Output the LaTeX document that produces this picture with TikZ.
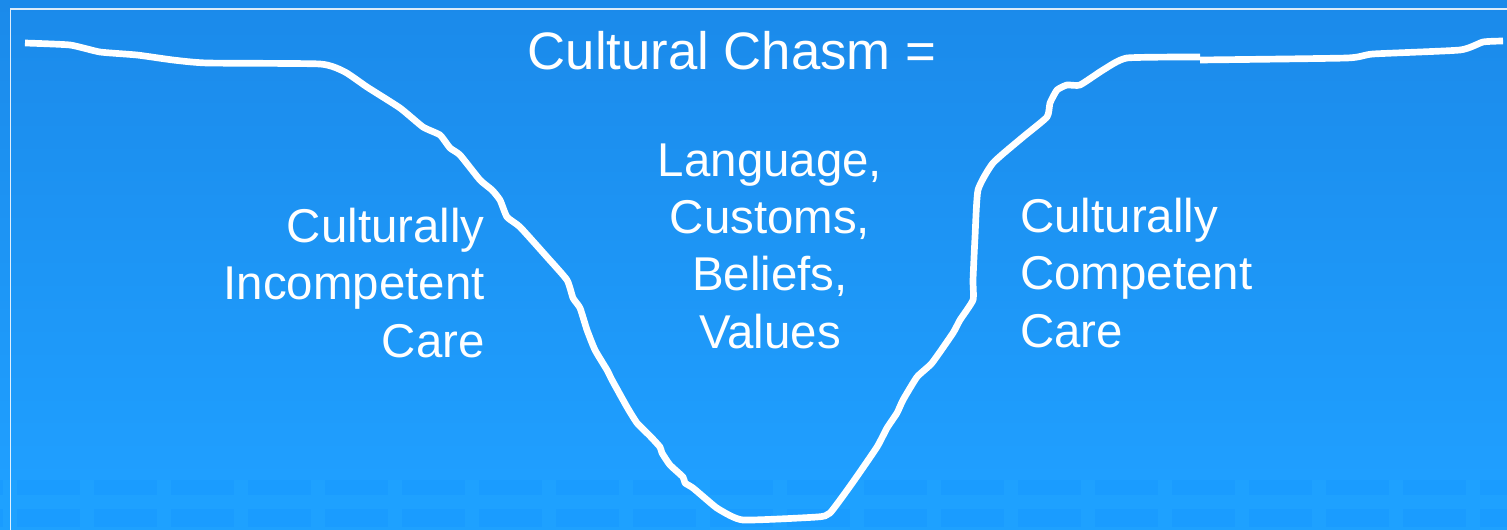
\documentclass[tikz,border=0pt]{standalone}
\usepackage{fontspec}
\setmainfont{Liberation Sans}
\definecolor{chasmtop}{RGB}{27,138,234}
\definecolor{chasmbot}{RGB}{31,159,255}
\definecolor{tiledark}{RGB}{26,156,255}
\definecolor{tilelight}{RGB}{30,161,255}
\tikzset{
  x=0.02cm, y=-0.02cm,
  chasm/.style={draw=white, line width=3.8pt, line join=round},
  frameline/.style={draw=white, line width=0.8pt, opacity=0.85},
  chasmtext/.style={text=white, font=\fontsize{27}{32.6}\selectfont, inner sep=0pt},
  headtext/.style={text=white, font=\fontsize{30}{36}\selectfont, inner sep=0pt},
}

\begin{document}
\begin{tikzpicture}
  \useasboundingbox (0,0) rectangle (1507,530);
  \clip (0,0) rectangle (1507,530);

  % background
  \shade[top color=chasmtop, bottom color=chasmbot] (0,0) rectangle (1507,480);
  \fill[tiledark] (0,480) rectangle (1507,530);
  \foreach \i in {0,...,19}
    \fill[tilelight] ({3+77*\i},480) rectangle ({17+77*\i},530);
  \fill[tilelight] (0,495) rectangle (1507,509);
  \fill[tilelight] (0,527) rectangle (1507,530);
  \draw[frameline] (10.5,540) -- (10.5,9) -- (1510,9);

  % chasm
  \draw[chasm] plot[smooth, tension=0.3] coordinates {
    (25,43) (70,45) (100,52) (137,55) (173,60) (207,63) (320,64) (345,72)
    (367,87) (400,108) (423,127) (440,135) (450,148) (460,155) (480,180)
    (492,190) (500,200) (507,217) (520,227) (547,257) (567,280) (573,298)
    (580,308) (587,330) (595,350) (607,370) (612,380) (627,407) (637,423)
    (650,436) (660,447) (662,453) (670,465) (683,477) (685,483) (693,488)
    (713,505) (720,510) (743,520) (817,517) (830,513) (853,482) (877,447)
    (887,428) (897,413) (903,400) (917,377) (932,363) (953,333) (960,320)
    (973,300) (973,280) (975,237) (978,190) (993,163) (1023,137) (1047,117)
    (1050,103) (1057,90) (1067,85) (1080,85) (1103,70) (1127,58) (1200,57)};
  \draw[chasm] plot[smooth, tension=0.3] coordinates {
    (1200,60) (1347,58) (1373,54) (1460,50) (1483,42) (1503,41)};

  % labels
  \node[headtext] (title) at (732,51) {Cultural Chasm =};
  \node[chasmtext, align=right, anchor=east] (incompetent) at (485,283)
    {Culturally\\Incompetent\\Care};
  \node[chasmtext, align=center] (values) at (770,246)
    {Language,\\Customs,\\Beliefs,\\Values};
  \node[chasmtext, align=left, anchor=west] (competent) at (1020,273)
    {Culturally\\Competent\\Care};
\end{tikzpicture}
\end{document}
